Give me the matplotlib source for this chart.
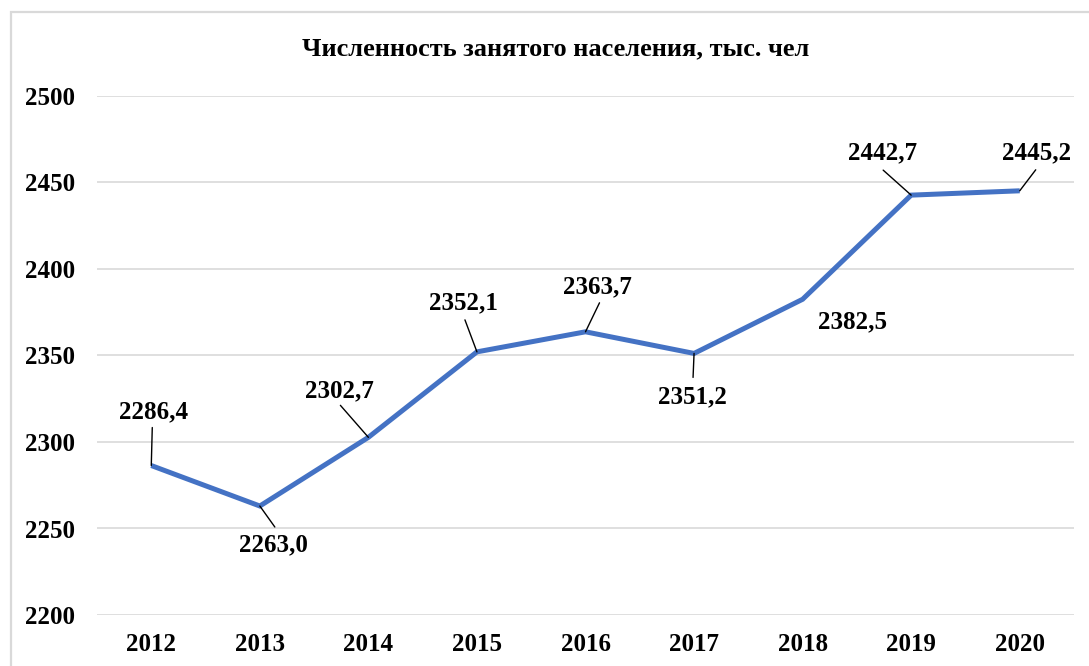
import matplotlib
matplotlib.use("Agg")
import matplotlib.pyplot as plt
from matplotlib.patches import Rectangle

years = ["2012", "2013", "2014", "2015", "2016", "2017", "2018", "2019", "2020"]
values = [2286.4, 2263.0, 2302.7, 2352.1, 2363.7, 2351.2, 2382.5, 2442.7, 2445.2]
labels = ["2286,4", "2263,0", "2302,7", "2352,1", "2363,7", "2351,2", "2382,5", "2442,7", "2445,2"]
title = "Численность занятого населения, тыс. чел"
yticks = [2200, 2250, 2300, 2350, 2400, 2450, 2500]

# label placement: text offset and leader-line end (pixels, y up); None = no leader
text_off = [(2, 54), (14, -39), (-29, 47), (-14, 49), (12, 45), (-2, -43), (50, -23), (-29, 42), (17, 38)]
lead_off = [(1, 38), (15, -21), (-28, 32), (-12, 32), (14, 29), (-1, -24), None, (-28, 25), (16, 21)]

plt.rcParams['font.family'] = ['Liberation Serif', 'DejaVu Serif']
W, H = 1089, 666
fig = plt.figure(figsize=(W / 100, H / 100), dpi=100)

# chart frame (cropped at right/bottom)
fig.patches.append(Rectangle((11 / W, -0.1), 1.2, 1 - 12 / H + 0.1, transform=fig.transFigure,
                             fill=False, edgecolor="#D9D9D9", linewidth=1.6, zorder=0))

ax = fig.add_axes([97 / W, 1 - 615 / H, (1074 - 97) / W, (615 - 96) / H])
x = list(range(len(years)))
ax.plot(x, values, color="#4472C4", linewidth=3.6, solid_capstyle="butt", solid_joinstyle="miter", zorder=3)
ax.set_xlim(-0.5, len(years) - 0.5)
ax.set_ylim(2200, 2500)
ax.set_yticks(yticks)
ax.set_xticks(x)
ax.set_xticklabels(years)
ax.yaxis.grid(True, color="#D9D9D9", linewidth=1.2)
ax.set_axisbelow(True)
for s in ax.spines.values():
    s.set_visible(False)
ax.tick_params(axis="both", length=0, labelsize=18)
ax.tick_params(axis="y", pad=16)
ax.tick_params(axis="x", pad=13)
for t in ax.get_xticklabels() + ax.get_yticklabels():
    t.set_fontweight("bold")

for xi, v, lab, to, lo in zip(x, values, labels, text_off, lead_off):
    ax.annotate(lab, (xi, v), xytext=to, textcoords="offset pixels", ha="center", va="center",
                fontsize=18, fontweight="bold", color="black", zorder=5)
    if lo is not None:
        ax.annotate("", (xi, v), xytext=lo, textcoords="offset pixels",
                    arrowprops=dict(arrowstyle="-", color="black", lw=1.0, shrinkA=0, shrinkB=0), zorder=4)

fig.text(556 / W, 1 - 49 / H, title, ha="center", va="center", fontsize=19, fontweight="bold")

fig.savefig("out.png", dpi=100)
